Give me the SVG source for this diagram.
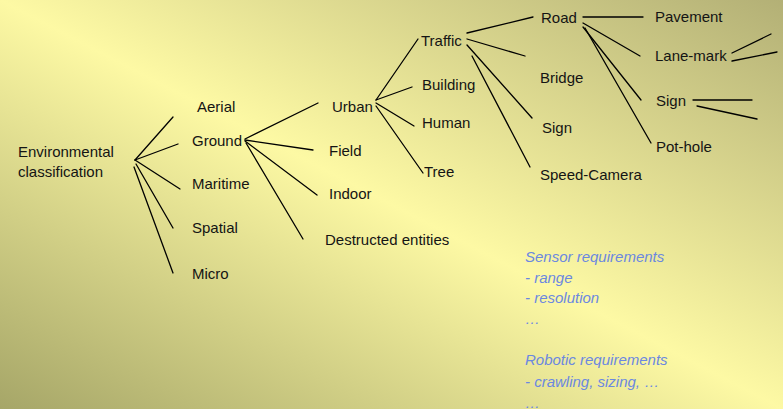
<svg xmlns="http://www.w3.org/2000/svg" width="783" height="409" viewBox="0 0 783 409">
<defs>
<linearGradient id="bg" x1="1" y1="0" x2="0" y2="1">
<stop offset="0" stop-color="#b3b076"/>
<stop offset="0.5" stop-color="#fdf9a4"/>
<stop offset="1" stop-color="#a6a668"/>
</linearGradient>
<style>
.t{font-family:"Liberation Sans",Arial,sans-serif;font-size:15px;fill:#141414}
.b{font-family:"Liberation Sans",Arial,sans-serif;font-size:15px;font-style:italic;fill:#6b88e0}
.c line{stroke:#000;stroke-width:1.3;stroke-linecap:round}
</style>
</defs>
<rect x="0" y="0" width="783" height="409" fill="url(#bg)"/>
<g id="connectors" class="c">
<line x1="135" y1="160" x2="173" y2="117"/>
<line x1="135" y1="160" x2="178" y2="144"/>
<line x1="135" y1="160" x2="180" y2="189"/>
<line x1="136" y1="164" x2="173" y2="228"/>
<line x1="134" y1="167" x2="173" y2="273"/>
<line x1="245" y1="139" x2="318" y2="103"/>
<line x1="245" y1="140" x2="313" y2="150"/>
<line x1="245" y1="141" x2="317" y2="195"/>
<line x1="246" y1="143" x2="303" y2="239"/>
<line x1="376" y1="100" x2="418" y2="39"/>
<line x1="376" y1="100" x2="412" y2="87"/>
<line x1="376" y1="103" x2="414" y2="126"/>
<line x1="376" y1="106" x2="423" y2="173"/>
<line x1="467" y1="33" x2="533" y2="17"/>
<line x1="467" y1="39" x2="525" y2="56"/>
<line x1="467" y1="45" x2="532" y2="118"/>
<line x1="472" y1="56" x2="530" y2="167"/>
<line x1="583" y1="17" x2="643" y2="17"/>
<line x1="583" y1="23" x2="640" y2="56"/>
<line x1="583" y1="27" x2="641" y2="100"/>
<line x1="585" y1="28" x2="651" y2="143"/>
<line x1="732" y1="53" x2="771" y2="34"/>
<line x1="732" y1="61" x2="777" y2="52"/>
<line x1="693" y1="100" x2="752" y2="100"/>
<line x1="697" y1="106" x2="757" y2="119"/>
</g>
<g id="root"><text class="t" x="18" y="157">Environmental</text><text class="t" x="18" y="177">classification</text></g>
<g id="aerial"><text class="t" x="197" y="112">Aerial</text></g>
<g id="ground"><text class="t" x="192" y="146">Ground</text></g>
<g id="maritime"><text class="t" x="192" y="189">Maritime</text></g>
<g id="spatial"><text class="t" x="192" y="233">Spatial</text></g>
<g id="micro"><text class="t" x="192" y="279">Micro</text></g>
<g id="urban"><text class="t" x="332" y="112">Urban</text></g>
<g id="field"><text class="t" x="329" y="156">Field</text></g>
<g id="indoor"><text class="t" x="329" y="199">Indoor</text></g>
<g id="destructed"><text class="t" x="325" y="245">Destructed entities</text></g>
<g id="traffic"><text class="t" x="421" y="46">Traffic</text></g>
<g id="building"><text class="t" x="422" y="90">Building</text></g>
<g id="human"><text class="t" x="422" y="128">Human</text></g>
<g id="tree"><text class="t" x="424" y="177">Tree</text></g>
<g id="road"><text class="t" x="541" y="23">Road</text></g>
<g id="bridge"><text class="t" x="540" y="83">Bridge</text></g>
<g id="sign1"><text class="t" x="542" y="133">Sign</text></g>
<g id="speedcam"><text class="t" x="540" y="180">Speed-Camera</text></g>
<g id="pavement"><text class="t" x="655" y="22">Pavement</text></g>
<g id="lanemark"><text class="t" x="655" y="61">Lane-mark</text></g>
<g id="sign2"><text class="t" x="656" y="106">Sign</text></g>
<g id="pothole"><text class="t" x="656" y="152">Pot-hole</text></g>
<g id="requirements">
<text class="b" x="525" y="262">Sensor requirements</text>
<text class="b" x="525" y="283">- range</text>
<text class="b" x="525" y="303">- resolution</text>
<text class="b" x="525" y="324">…</text>
<text class="b" x="525" y="365">Robotic requirements</text>
<text class="b" x="525" y="387">- crawling, sizing, …</text>
<text class="b" x="525" y="408">…</text>
</g>
</svg>
